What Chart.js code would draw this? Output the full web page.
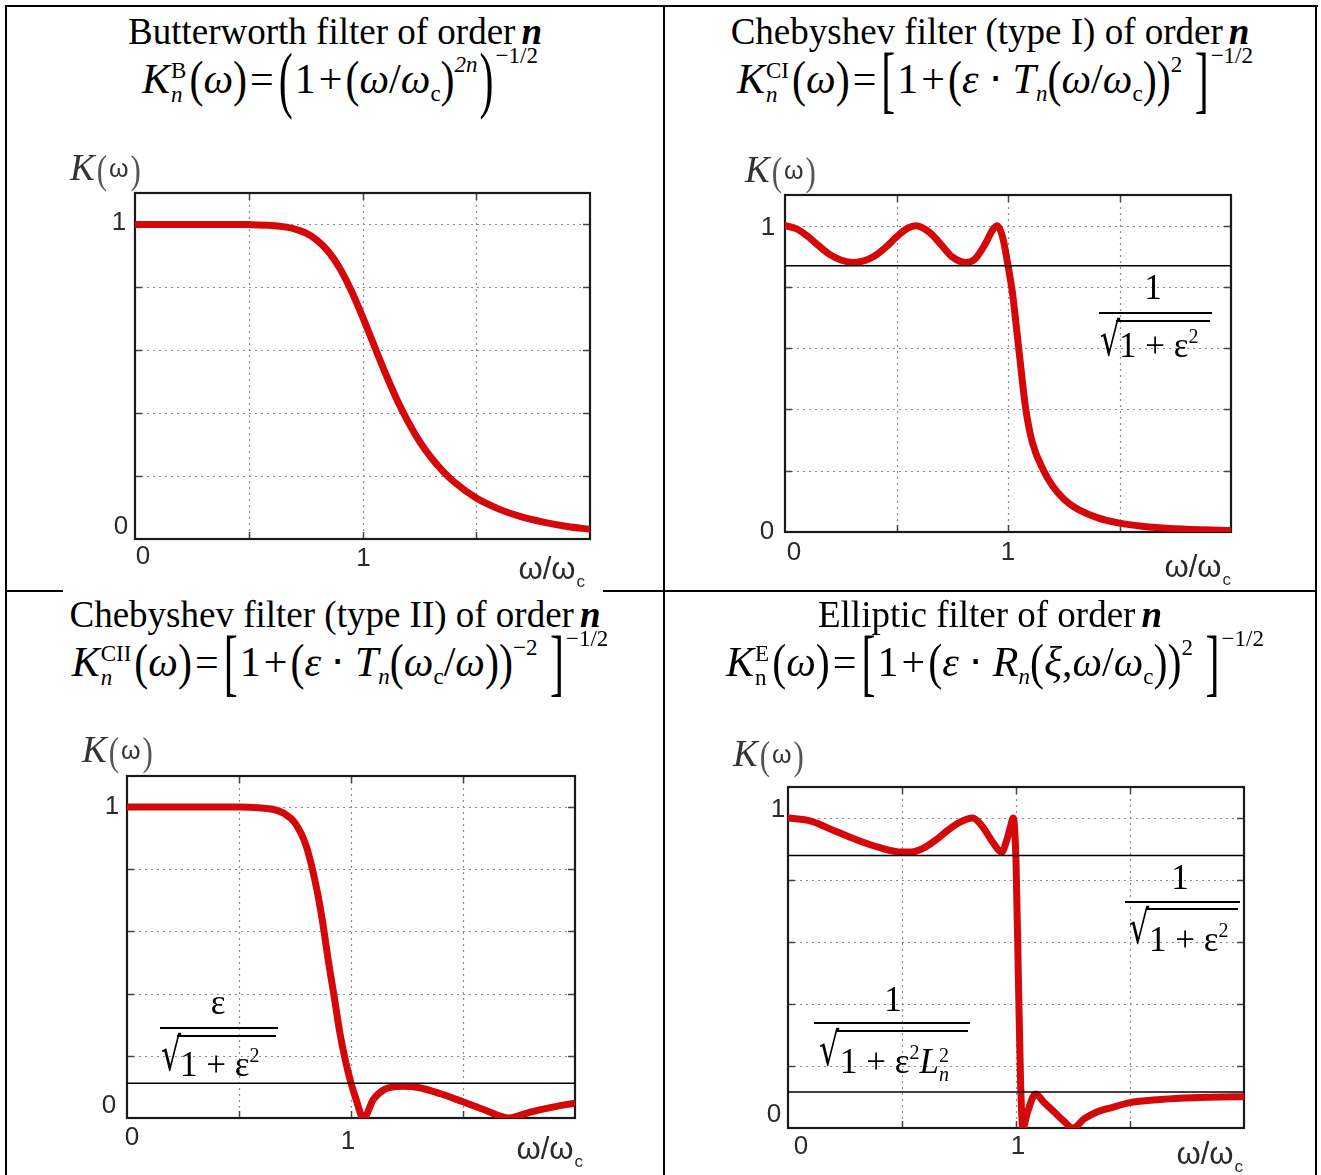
<!DOCTYPE html>
<html><head><meta charset="utf-8">
<script src="https://cdn.jsdelivr.net/npm/chart.js"></script>
<style>
html,body{margin:0;padding:0;background:#fff;}
#wrap{position:relative;width:1321px;height:1175px;overflow:hidden;background:#fff;}
.ln{position:absolute;background:#000;}
canvas{position:absolute;}
.title{position:absolute;font-family:"Liberation Serif",serif;font-size:37px;text-align:center;white-space:nowrap;line-height:1;color:#000;}
.title b{font-style:italic;margin-left:6px;}
.fm{position:absolute;font-family:"Liberation Serif",serif;font-size:42px;text-align:center;white-space:nowrap;line-height:1;color:#000;}
.i{font-style:italic;}
.op{margin:0 3px;}
.ss{display:inline-block;vertical-align:middle;font-size:23px;line-height:1.05;text-align:left;margin-left:1px;margin-right:3px;}
.ss span{display:block;}
.p1{display:inline-block;transform:scaleY(1.2);}
.p2{display:inline-block;transform:scaleY(1.75);margin:0 2px;}
.sb{font-size:23px;position:relative;top:8px;}
.sp{font-size:23px;position:relative;top:-21px;}
.sp2{font-size:23px;position:relative;top:-30px;}
.kl{position:absolute;font-family:"Liberation Serif",serif;font-size:37px;line-height:1;color:#333;white-space:nowrap;}
.kp{display:inline-block;transform:scaleY(1.3);font-size:31px;color:#555;margin:0 2px;}
.kw{font-family:"Liberation Sans",sans-serif;font-size:25px;position:relative;top:-3px;}
.num{position:absolute;font-family:"Liberation Serif",serif;font-size:35px;line-height:1;text-align:center;width:40px;}
.bar{position:absolute;height:2px;background:#000;}
.rad{position:absolute;font-family:"DejaVu Serif",serif;font-size:44px;line-height:1;transform:scale(0.72,1.05);transform-origin:0 0;}
.dt{position:absolute;font-family:"Liberation Serif",serif;font-size:35px;line-height:1;white-space:nowrap;}
.e2{font-size:20px;position:relative;top:-14px;}
</style>
</head><body>
<div id="wrap">
  <canvas id="c1"></canvas>
  <canvas id="c2"></canvas>
  <canvas id="c3"></canvas>
  <canvas id="c4"></canvas>

  <!-- table borders -->
  <div class="ln" style="left:5px;top:5px;width:1313px;height:2px;"></div>
  <div class="ln" style="left:5px;top:5px;width:2px;height:1170px;"></div>
  <div class="ln" style="left:1315px;top:5px;width:2px;height:1170px;"></div>
  <div class="ln" style="left:663px;top:5px;width:2px;height:1170px;"></div>
  <div class="ln" style="left:5px;top:590px;width:58px;height:2px;"></div>
  <div class="ln" style="left:603px;top:590px;width:714px;height:2px;"></div>

  <!-- titles -->
  <div class="title" style="left:7px;top:13px;width:656px;">Butterworth filter of order<b>n</b></div>
  <div class="title" style="left:665px;top:13px;width:650px;">Chebyshev filter (type I) of order<b>n</b></div>
  <div class="title" style="left:7px;top:596px;width:656px;">Chebyshev filter (type II) of order<b>n</b></div>
  <div class="title" style="left:665px;top:596px;width:650px;">Elliptic filter of order<b>n</b></div>

  <!-- formulas -->
  <div class="fm" style="left:12px;top:58px;width:656px;"><span class="i">K</span><span class="ss"><span>B</span><span class="i">n</span></span><span class="p1">(</span><span class="i">ω</span><span class="p1">)</span><span class="op">=</span><span class="p2">(</span>1<span class="op">+</span><span class="p1">(</span><span class="i">ω</span>/<span class="i">ω</span><span class="sb">c</span><span class="p1">)</span><span class="sp i">2n</span><span class="p2">)</span><span class="sp2">−1/2</span></div>
  <div class="fm" style="left:670px;top:58px;width:650px;"><span class="i">K</span><span class="ss"><span>CI</span><span class="i">n</span></span><span class="p1">(</span><span class="i">ω</span><span class="p1">)</span><span class="op">=</span><span class="p2">[</span>1<span class="op">+</span><span class="p1">(</span><span class="i">ε</span> ⋅ <span class="i">T</span><span class="sb i">n</span><span class="p1">(</span><span class="i">ω</span>/<span class="i">ω</span><span class="sb">c</span><span class="p1">))</span><span class="sp">2</span> <span class="p2">]</span><span class="sp2">−1/2</span></div>
  <div class="fm" style="left:12px;top:641px;width:656px;"><span class="i">K</span><span class="ss"><span>CII</span><span class="i">n</span></span><span class="p1">(</span><span class="i">ω</span><span class="p1">)</span><span class="op">=</span><span class="p2">[</span>1<span class="op">+</span><span class="p1">(</span><span class="i">ε</span> ⋅ <span class="i">T</span><span class="sb i">n</span><span class="p1">(</span><span class="i">ω</span><span class="sb">c</span>/<span class="i">ω</span><span class="p1">))</span><span class="sp">−2</span> <span class="p2">]</span><span class="sp2">−1/2</span></div>
  <div class="fm" style="left:670px;top:641px;width:650px;"><span class="i">K</span><span class="ss"><span>E</span><span>n</span></span><span class="p1">(</span><span class="i">ω</span><span class="p1">)</span><span class="op">=</span><span class="p2">[</span>1<span class="op">+</span><span class="p1">(</span><span class="i">ε</span> ⋅ <span class="i">R</span><span class="sb i">n</span><span class="p1">(</span><span class="i">ξ</span>,<span class="i">ω</span>/<span class="i">ω</span><span class="sb">c</span><span class="p1">))</span><span class="sp">2</span> <span class="p2">]</span><span class="sp2">−1/2</span></div>

  <!-- K(ω) labels -->
  <div class="kl" style="left:70px;top:149px;"><span class="i">K</span><span class="kp">(</span><span class="kw">ω</span><span class="kp">)</span></div>
  <div class="kl" style="left:745px;top:151px;"><span class="i">K</span><span class="kp">(</span><span class="kw">ω</span><span class="kp">)</span></div>
  <div class="kl" style="left:82px;top:731px;"><span class="i">K</span><span class="kp">(</span><span class="kw">ω</span><span class="kp">)</span></div>
  <div class="kl" style="left:733px;top:735px;"><span class="i">K</span><span class="kp">(</span><span class="kw">ω</span><span class="kp">)</span></div>

  <!-- annotations panel 2 -->
  <div class="num" style="left:1133px;top:270px;">1</div>
  <div class="bar" style="left:1099px;top:312px;width:113px;"></div>
  <div class="bar" style="left:1116px;top:320px;width:94px;height:1.5px;"></div>
  <div class="rad" style="left:1100px;top:316px;">√</div>
  <div class="dt" style="left:1119px;top:328px;">1 + ε<span class="e2">2</span></div>
  <!-- annotations panel 3 -->
  <div class="num" style="left:198px;top:985px;">ε</div>
  <div class="bar" style="left:160px;top:1027px;width:118px;"></div>
  <div class="bar" style="left:177px;top:1035px;width:99px;height:1.5px;"></div>
  <div class="rad" style="left:161px;top:1031px;">√</div>
  <div class="dt" style="left:180px;top:1047px;">1 + ε<span class="e2">2</span></div>
  <!-- annotations panel 4 -->
  <div class="num" style="left:1160px;top:860px;">1</div>
  <div class="bar" style="left:1125px;top:901px;width:115px;"></div>
  <div class="bar" style="left:1146px;top:908px;width:92px;height:1.5px;"></div>
  <div class="rad" style="left:1129px;top:904px;">√</div>
  <div class="dt" style="left:1149px;top:922px;">1 + ε<span class="e2">2</span></div>
  <div class="num" style="left:873px;top:982px;">1</div>
  <div class="bar" style="left:814px;top:1022px;width:156px;"></div>
  <div class="bar" style="left:837px;top:1030px;width:131px;height:1.5px;"></div>
  <div class="rad" style="left:819px;top:1026px;">√</div>
  <div class="dt" style="left:840px;top:1044px;">1 + ε<span class="e2">2</span><span class="i">L</span><span style="display:inline-block;vertical-align:middle;font-size:20px;line-height:0.95;"><span style="display:block">2</span><span style="display:block" class="i">n</span></span></div>
</div>

<script>
// ---------- data ----------
const xGrid = [0.5, 1, 1.5];
const yGrid = [0.2, 0.4, 0.6, 0.8, 1.0];
const xTickVals = [0, 1];
const xTickText = ['0', '1'];
const yTickVals = [0, 1];
const yTickText = ['0', '1'];

// Butterworth
const bwX = [0,0.1,0.2,0.3,0.4,0.5,0.6,0.65,0.7,0.75,0.8,0.85,0.9,0.95,1.0,1.05,1.1,1.15,1.2,1.25,1.3,1.35,1.4,1.5,1.6,1.7,1.8,1.9,2.0];
const bwY = [1,1,1,1,1,0.9995,0.997,0.993,0.986,0.973,0.95,0.914,0.861,0.791,0.707,0.617,0.528,0.445,0.373,0.311,0.26,0.218,0.183,0.13,0.095,0.07,0.053,0.04,0.031];

// Chebyshev type I
const c1X = [0,0.05,0.1,0.15,0.2,0.25,0.309,0.35,0.4,0.45,0.5,0.55,0.588,0.65,0.7,0.75,0.809,0.85,0.9,0.93,0.951,0.975,1.0,1.02,1.048,1.08,1.11,1.16,1.2,1.25,1.3,1.4,1.5,1.6,1.75,2.0];
const c1Y = [1,0.99,0.966,0.935,0.906,0.888,0.88,0.884,0.9,0.928,0.963,0.992,1,0.977,0.938,0.898,0.88,0.89,0.943,0.985,1,0.965,0.87,0.78,0.6,0.4,0.29,0.2,0.15,0.108,0.08,0.047,0.029,0.019,0.011,0.005];
const c1Level = [0.869];

// Chebyshev type II
const c2X = [0,0.2,0.4,0.5,0.6,0.65,0.7,0.75,0.8,0.85,0.875,0.9,0.925,0.95,0.975,1.0,1.02,1.056,1.1,1.15,1.23,1.3,1.4,1.5,1.6,1.705,1.8,1.9,2.0];
const c2Y = [1,1,1,1,0.997,0.993,0.98,0.949,0.875,0.726,0.622,0.5,0.39,0.275,0.185,0.112,0.066,0,0.06,0.092,0.102,0.098,0.078,0.052,0.025,0,0.019,0.035,0.048];
const c2Level = [0.112];

// Elliptic
const elX = [0,0.1,0.2,0.3,0.4,0.5,0.55,0.6,0.65,0.7,0.75,0.81,0.85,0.9,0.937,0.96,0.975,0.988,1.0,1.01,1.02,1.03,1.05,1.086,1.12,1.17,1.21,1.25,1.3,1.35,1.42,1.5,1.6,1.7,1.8,1.9,2.0];
const elY = [1,0.99,0.96,0.93,0.905,0.89,0.891,0.905,0.93,0.96,0.985,1.0,0.975,0.92,0.89,0.93,0.97,1.0,0.86,0.5,0.15,0,0.05,0.11,0.085,0.05,0.022,0,0.03,0.05,0.066,0.082,0.09,0.095,0.098,0.1,0.101];
const elLevels = [0.879, 0.116];

// ---------- drawing ----------
const RED = 'rgb(212,8,8)';
const pts = (xs, ys) => xs.map((x, i) => ({x, y: ys[i]}));
const lvl = v => [{x: 0, y: v}, {x: 2, y: v}];

const frameGrid = {
  id: 'frameGrid',
  beforeDatasetsDraw(chart, args, o) {
    const {ctx, chartArea: a, scales: {x, y}} = chart;
    ctx.save();
    ctx.strokeStyle = '#8c8c8c'; ctx.lineWidth = 1.2; ctx.setLineDash([2, 4]);
    xGrid.forEach(v => { const p = Math.round(x.getPixelForValue(v)) + 0.5; ctx.beginPath(); ctx.moveTo(p, a.top); ctx.lineTo(p, a.bottom); ctx.stroke(); });
    yGrid.forEach(v => { const p = Math.round(y.getPixelForValue(v)) + 0.5; ctx.beginPath(); ctx.moveTo(a.left, p); ctx.lineTo(a.right, p); ctx.stroke(); });
    ctx.setLineDash([]);
    ctx.strokeStyle = '#444'; ctx.lineWidth = 1.5;
    xGrid.forEach(v => { const p = Math.round(x.getPixelForValue(v)) + 0.5; ctx.beginPath(); ctx.moveTo(p, a.top); ctx.lineTo(p, a.top + 7); ctx.moveTo(p, a.bottom); ctx.lineTo(p, a.bottom - 7); ctx.stroke(); });
    yGrid.forEach(v => { const p = Math.round(y.getPixelForValue(v)) + 0.5; ctx.beginPath(); ctx.moveTo(a.left, p); ctx.lineTo(a.left + 7, p); ctx.moveTo(a.right, p); ctx.lineTo(a.right - 7, p); ctx.stroke(); });
    ctx.strokeStyle = '#1a1a1a'; ctx.lineWidth = 2.2;
    ctx.strokeRect(a.left, a.top, a.right - a.left, a.bottom - a.top);
    ctx.restore();
  },
  afterDraw(chart, args, o) {
    const {ctx, scales: {x, y}} = chart;
    ctx.save();
    ctx.fillStyle = '#2a2a2a';
    ctx.font = '26px "Liberation Sans", Arial, sans-serif';
    ctx.textAlign = 'center'; ctx.textBaseline = 'middle';
    xTickVals.forEach((v, i) => {
      const d = o.xOff[i];
      ctx.fillText(xTickText[i], x.getPixelForValue(v) + d[0], y.getPixelForValue(0) + d[1]);
    });
    yTickVals.forEach((v, i) => {
      const d = o.yOff[i];
      ctx.fillText(yTickText[i], x.getPixelForValue(0) + d[0], y.getPixelForValue(v) + d[1]);
    });
    // axis title ω/ωc
    const ax = x.getPixelForValue(2) + o.tOff[0], ay = y.getPixelForValue(0) + o.tOff[1];
    ctx.font = '31px "Liberation Sans", Arial, sans-serif';
    ctx.textAlign = 'left';
    const s = 'ω/ω';
    const w = ctx.measureText(s).width;
    ctx.fillText(s, ax - w / 2 - 5, ay);
    ctx.font = '17px "Liberation Sans", Arial, sans-serif';
    ctx.fillText('c', ax + w / 2 - 4, ay + 12);
    ctx.restore();
  }
};

function makeChart(id, box, datasets, labelOpts) {
  const PL = 60, PT = 25, PR = 30, PB = 55;
  const cv = document.getElementById(id);
  const W = box.r - box.l + PL + PR, H = box.b - box.t + PT + PB;
  cv.width = W; cv.height = H;
  cv.style.left = (box.l - PL) + 'px'; cv.style.top = (box.t - PT) + 'px';
  cv.style.width = W + 'px'; cv.style.height = H + 'px';
  return new Chart(cv, {
    type: 'line',
    data: {datasets},
    options: {
      responsive: false, animation: false, devicePixelRatio: 1, events: [],
      layout: {padding: {left: PL, top: PT, right: PR, bottom: PB}},
      plugins: {legend: {display: false}, tooltip: {enabled: false}, frameGrid: labelOpts},
      scales: {
        x: {type: 'linear', min: 0, max: 2, display: false},
        y: {type: 'linear', min: 0, max: 1.1, display: false}
      }
    },
    plugins: [frameGrid]
  });
}

const curve = (xs, ys) => ({data: pts(xs, ys), borderColor: RED, borderWidth: 7, pointRadius: 0, fill: false,
  cubicInterpolationMode: 'monotone', borderCapStyle: 'round', borderJoinStyle: 'round'});
const level = v => ({data: lvl(v), borderColor: '#000', borderWidth: 1.6, pointRadius: 0, fill: false});

makeChart('c1', {l: 135, t: 193, r: 590, b: 539},
  [curve(bwX, bwY)],
  {xOff: [[8, 18], [1, 20]], yOff: [[-14, -12], [-16, -2]], tOff: [-38, 31]});

makeChart('c2', {l: 785, t: 195, r: 1231, b: 532},
  [level(c1Level[0]), curve(c1X, c1Y)],
  {xOff: [[9, 21], [0, 21]], yOff: [[-18, 0], [-17, 2]], tOff: [-33, 36]});

makeChart('c3', {l: 127, t: 776, r: 575, b: 1118},
  [level(c2Level[0]), curve(c2X, c2Y)],
  {xOff: [[5, 20], [-3, 24]], yOff: [[-18, -12], [-15, 0]], tOff: [-25, 32]});

makeChart('c4', {l: 788, t: 787, r: 1244, b: 1128},
  [level(elLevels[0]), level(elLevels[1]), curve(elX, elY)],
  {xOff: [[13, 19], [2, 19]], yOff: [[-14, -13], [-10, -8]], tOff: [-34, 27]});
</script>
</body></html>
